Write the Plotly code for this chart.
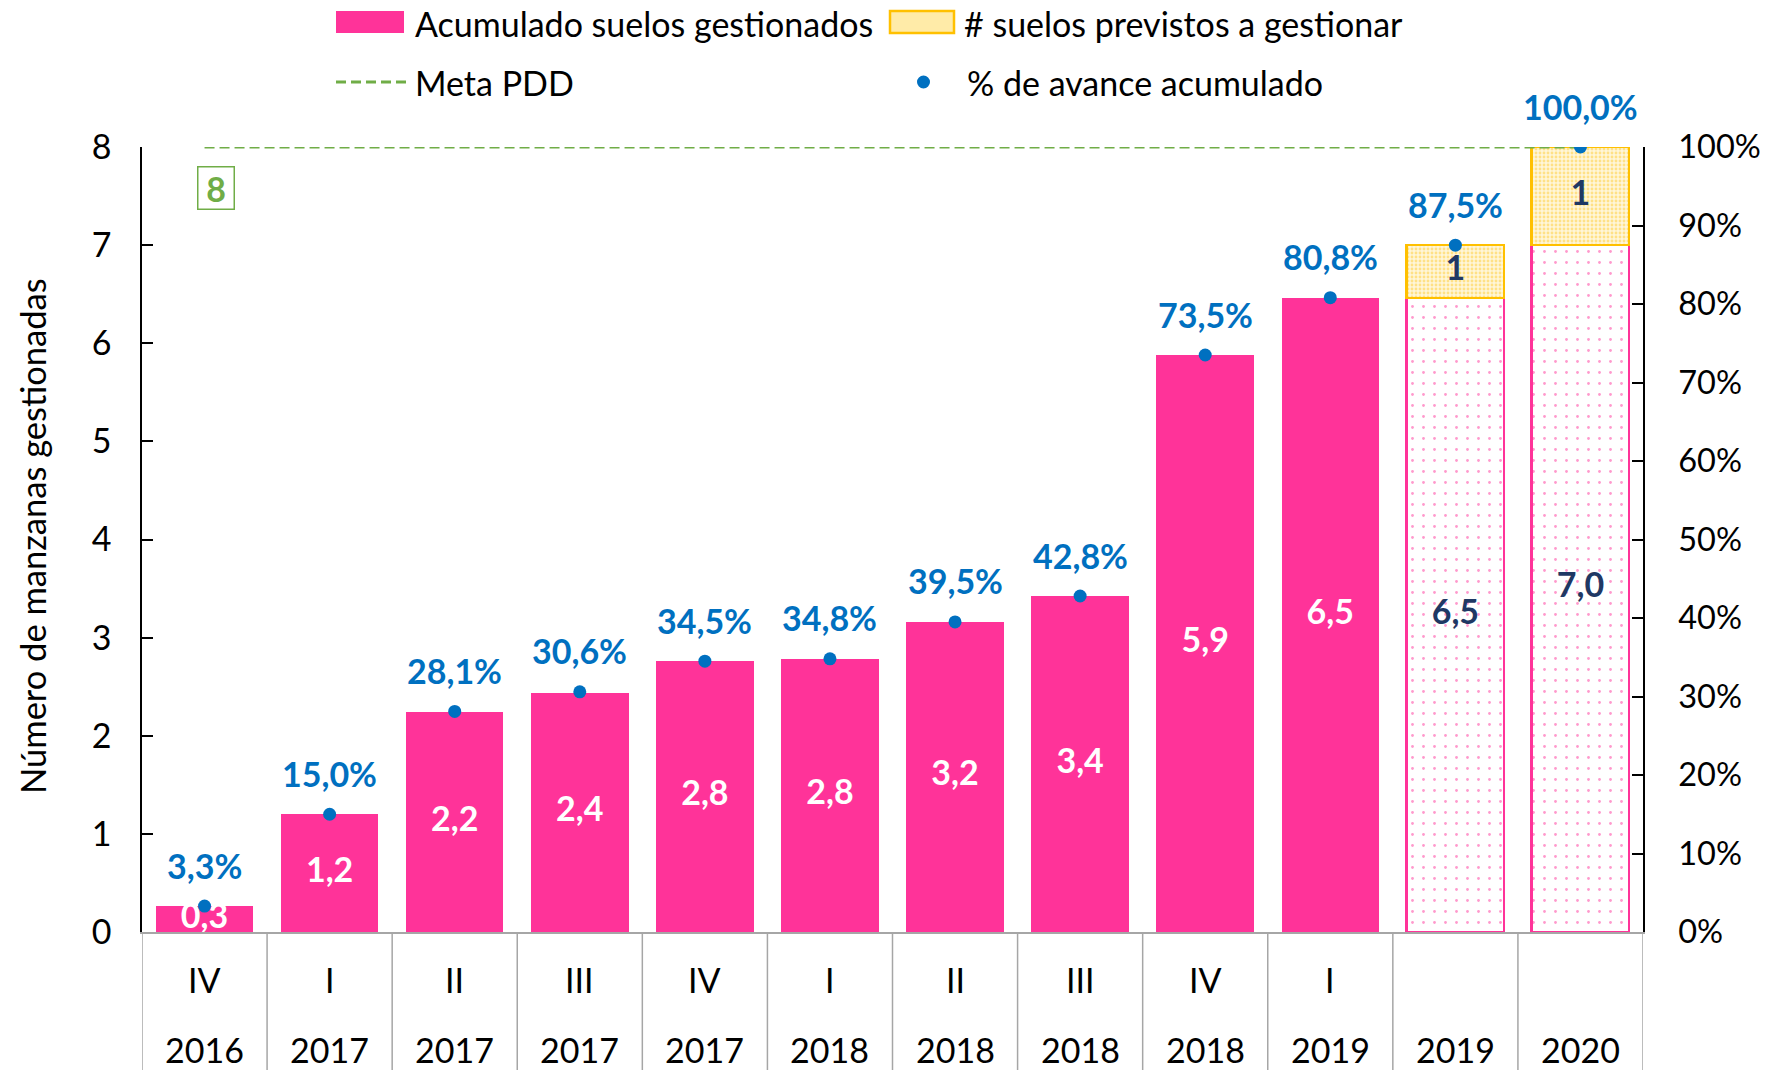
import plotly.graph_objects as go

# ---------------- data ----------------
quarters = ["IV", "I", "II", "III", "IV", "I", "II", "III", "IV", "I", "", ""]
years = ["2016", "2017", "2017", "2017", "2017", "2018", "2018", "2018", "2018", "2019", "2019", "2020"]
gestionados = [0.26, 1.20, 2.24, 2.44, 2.76, 2.78, 3.16, 3.42, 5.88, 6.46, None, None]
proyectado = [None] * 10 + [6.46, 7.00]
previstos = [None] * 10 + [0.54, 1.00]
avance_pct = [3.3, 15.0, 28.1, 30.6, 34.5, 34.8, 39.5, 42.8, 73.5, 80.8, 87.5, 100.0]
meta = 8

# ---------------- styles ----------------
FONT = "Lato"
FS = 34
PINK = "#FF3399"
YEL_BORDER = "#FFC000"
BLUE = "#0070C0"
NAVY = "#1F3864"
GREEN = "#70AD47"
GRAY = "#A6A6A6"

OFF = 8                      # page body margin
W, H = 1769 - 2 * OFF, 1070 - OFF
# plot area in screen pixels: x 142..1643, y 147..932
L = 142 - OFF
T = 147 - OFF
R = W - (1643 - OFF)
B = H - (932 - OFF)
PW, PH = W - L - R, H - T - B


def pxx(x):
    return (x - OFF - L) / PW


def pyy(y):
    return (H - B - (y - OFF)) / PH


xs = list(range(len(years)))

fig = go.Figure()

# solid bars
fig.add_trace(go.Bar(x=xs, y=gestionados, marker=dict(color=PINK, line=dict(width=0)),
                     name="Acumulado suelos gestionados", showlegend=False))
# projected (dotted) bars
fig.add_trace(go.Bar(x=xs, y=proyectado,
                     marker=dict(color="white", line=dict(color=PINK, width=2.5),
                                 pattern=dict(shape=".", fgcolor=PINK, bgcolor="white",
                                              size=11, solidity=0.05)),
                     showlegend=False))
# previstos
fig.add_trace(go.Bar(x=xs, y=previstos,
                     marker=dict(color="white", line=dict(color=YEL_BORDER, width=2.5),
                                 pattern=dict(shape=".", fgcolor="#FFCC33", bgcolor="#FFF6D9",
                                              size=4, solidity=0.4)),
                     name="# suelos previstos a gestionar", showlegend=False))

# labels inside bars
lab_x, lab_y, lab_t, lab_c = [], [], [], []
for i in xs:
    if gestionados[i] is not None:
        v = gestionados[i]
        lab_x.append(i); lab_y.append(v / 2)
        lab_t.append(f"{v:.1f}".replace(".", ",")); lab_c.append("white")
    if proyectado[i] is not None:
        v = proyectado[i]
        lab_x.append(i); lab_y.append(v / 2)
        lab_t.append(f"{v:.1f}".replace(".", ",")); lab_c.append(NAVY)
    if previstos[i] is not None:
        v = previstos[i]
        lab_x.append(i); lab_y.append(proyectado[i] + v / 2)
        lab_t.append(f"{v:.0f}"); lab_c.append(NAVY)
fig.add_trace(go.Scatter(x=lab_x, y=lab_y, text=lab_t, mode="text",
                         textfont=dict(family=FONT, size=FS, color=lab_c, weight="bold"),
                         showlegend=False, hoverinfo="skip"))

# Meta line
fig.add_trace(go.Scatter(x=xs, y=[meta] * len(xs), mode="lines",
                         line=dict(color=GREEN, width=3, dash="10px,5px"),
                         name="Meta PDD", showlegend=False))

# % avance (right axis)
fig.add_trace(go.Scatter(x=xs, y=avance_pct, yaxis="y2", mode="markers",
                         marker=dict(color=BLUE, size=13),
                         name="% de avance acumulado", showlegend=False))

annotations = []
for i, p in enumerate(avance_pct):
    annotations.append(dict(x=i, y=p, xref="x", yref="y2", text=f"{p:.1f}%".replace(".", ","),
                            showarrow=False, yanchor="middle", yshift=41,
                            font=dict(family=FONT, size=FS, color=BLUE, weight="bold")))

# category table labels
for i in xs:
    annotations.append(dict(x=i, y=pyy(979), xref="x", yref="paper", text=quarters[i],
                            showarrow=False, yanchor="middle",
                            font=dict(family=FONT, size=FS, color="black")))
    annotations.append(dict(x=i, y=pyy(1049), xref="x", yref="paper", text=years[i],
                            showarrow=False, yanchor="middle",
                            font=dict(family=FONT, size=FS, color="black")))

# meta value box
annotations.append(dict(x=0, y=meta, xref="x", yref="y", text=str(meta), showarrow=False,
                        yanchor="middle", yshift=-41, xshift=11, width=33, height=39,
                        bordercolor=GREEN, borderwidth=1.5, borderpad=1,
                        font=dict(family=FONT, size=FS, color=GREEN, weight="bold")))

# y title
annotations.append(dict(x=pxx(32), y=pyy(536), xref="paper", yref="paper",
                        text="Número de manzanas gestionadas", textangle=-90, showarrow=False,
                        xanchor="center", yanchor="middle",
                        font=dict(family=FONT, size=FS + 0.5, color="black")))

# legend texts
for txt, x0, y0 in [("Acumulado suelos gestionados", 413, 23),
                    ("# suelos previstos a gestionar", 962, 23),
                    ("Meta PDD", 413, 82),
                    ("% de avance acumulado", 965, 82)]:
    annotations.append(dict(x=pxx(x0), y=pyy(y0), xref="paper", yref="paper", text=txt,
                            showarrow=False, xanchor="left", yanchor="middle",
                            font=dict(family=FONT, size=FS, color="black")))

shapes = []
# table dividers
for i in range(len(xs) + 1):
    shapes.append(dict(type="line", xref="x", yref="paper", x0=i - 0.5, x1=i - 0.5,
                       y0=0, y1=pyy(1075), line=dict(color=GRAY, width=1.5)))
# legend symbols
shapes.append(dict(type="rect", xref="paper", yref="paper", x0=pxx(336), x1=pxx(404),
                   y0=pyy(33), y1=pyy(11), fillcolor=PINK, line=dict(width=0)))
shapes.append(dict(type="rect", xref="paper", yref="paper", x0=pxx(890), x1=pxx(954),
                   y0=pyy(33), y1=pyy(11), fillcolor="#FFEBA8",
                   line=dict(color=YEL_BORDER, width=2.5)))
shapes.append(dict(type="line", xref="paper", yref="paper", x0=pxx(336), x1=pxx(406),
                   y0=pyy(82), y1=pyy(82), line=dict(color=GREEN, width=3, dash="10px,5px")))
shapes.append(dict(type="circle", xref="paper", yref="paper", x0=pxx(917), x1=pxx(930),
                   y0=pyy(88.5), y1=pyy(75.5), fillcolor=BLUE, line=dict(width=0)))

axis_common = dict(showline=True, linecolor="black", linewidth=1.5, ticks="inside",
                   ticklen=11, tickwidth=1.5, tickcolor="black", showgrid=False,
                   zeroline=False, automargin=False)

fig.update_layout(
    width=W, height=H, autosize=False,
    margin=dict(l=L, r=R, t=T, b=B, pad=0, autoexpand=False),
    paper_bgcolor="white", plot_bgcolor="white",
    barmode="stack", bargap=0.22,
    showlegend=False,
    font=dict(family=FONT, size=FS, color="black"),
    xaxis=dict(range=[-0.5, 11.5], showticklabels=False, showline=True, linecolor=GRAY,
               linewidth=1.5, showgrid=False, zeroline=False, ticks="", automargin=False),
    yaxis=dict(range=[0, 8], dtick=1, tick0=0, ticklabelstandoff=22,
               tickfont=dict(family=FONT, size=FS, color="black"), **axis_common),
    yaxis2=dict(range=[0, 100], dtick=10, tick0=0, ticksuffix="%", overlaying="y",
                side="right", ticklabelstandoff=27,
                tickfont=dict(family=FONT, size=32.5, color="black"), **axis_common),
    annotations=annotations,
    shapes=shapes,
)

fig.write_html("out.html")
